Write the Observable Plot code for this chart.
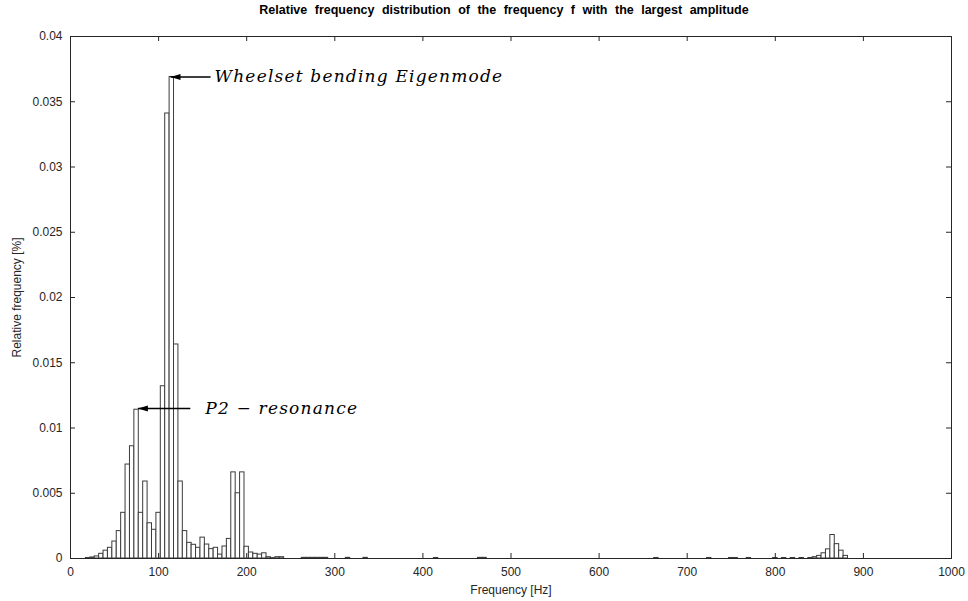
<!DOCTYPE html>
<html>
<head>
<meta charset="utf-8">
<script src="https://cdn.jsdelivr.net/npm/d3@7"></script>
<script src="https://cdn.jsdelivr.net/npm/@observablehq/plot@0.6"></script>
<style>
  html, body { margin: 0; padding: 0; background: white; }
  #title { box-sizing: border-box; width: 968px; height: 22px; padding: 3px 30px 0 70px; text-align: center;
    font: bold 12.5px "Liberation Sans", Arial, sans-serif; color: #000; word-spacing: 4px; white-space: nowrap; }
  #chart svg { display: block; }
</style>
</head>
<body>
<div id="title">Relative frequency distribution of the frequency f with the largest amplitude</div>
<div id="chart"></div>
<script>
// Bin centres (Hz), bin width 5 Hz
const freqHz = [20, 25, 30, 35, 40, 45, 50, 55, 60, 65, 70, 75, 80, 85, 90, 95, 100, 105, 110, 115, 120,
  125, 130, 135, 140, 145, 150, 155, 160, 165, 170, 175, 180, 185, 190, 195, 200, 205, 210, 215, 220,
  225, 230, 235, 240, 265, 270, 275, 280, 285, 290, 315, 335, 415, 465, 470, 665, 725, 750, 755, 770,
  800, 810, 820, 830, 840, 845, 850, 855, 860, 865, 870, 875, 880];
// Relative frequency
const relFreq = [0.00004, 0.00008, 0.00016, 0.00036, 0.0006, 0.00082, 0.0013, 0.0021, 0.0035, 0.0072, 0.0086, 0.0114, 0.0035, 0.0059, 0.0027, 0.0022, 0.0035, 0.0132, 0.0341, 0.0369, 0.0164,
  0.0059, 0.0021, 0.0012, 0.00105, 0.00082, 0.0016, 0.00107, 0.00072, 0.00082, 0.0003, 0.00092, 0.0015, 0.0066, 0.0050, 0.0066, 0.0009, 0.00046, 0.00036, 0.0003, 0.0004,
  0.0001, 0.00003, 0.0001, 0.0001, 0.00005, 0.00005, 0.00005, 0.00005, 0.00005, 0.00005, 0.00005, 0.00005, 0.00004, 0.00005, 0.00005, 0.00004, 0.00004, 0.00004, 0.00004, 0.00004,
  0.00004, 0.00004, 0.00004, 0.00004, 0.00004, 0.0001, 0.0002, 0.0004, 0.0007, 0.0018, 0.0011, 0.0006, 0.0002];
const binWidth = 5;

const xTicks = [0, 100, 200, 300, 400, 500, 600, 700, 800, 900, 1000];
const yTicks = [0, 0.005, 0.01, 0.015, 0.02, 0.025, 0.03, 0.035, 0.04];
const yTickLabels = ["0", "0.005", "0.01", "0.015", "0.02", "0.025", "0.03", "0.035", "0.04"];

// Annotations (data units)
const annotText = ["Wheelset bending Eigenmode", "P2 \u2212 resonance"];
const annotTipX = [113.5, 76.5];
const annotTailX = [159, 136];
const annotTextX = [163.5, 153];
const annotY = [0.0369, 0.0115];

const bars = freqHz.map((f, i) => ({x1: f - binWidth / 2, x2: f + binWidth / 2, v: relFreq[i]}));
const annots = annotText.map((t, i) => ({t, tip: annotTipX[i], tail: annotTailX[i], tx: annotTextX[i], y: annotY[i]}));

const W = 968, H = 579, mT = 14, mB = 43, mL = 70, mR = 17;
const innerW = W - mL - mR, innerH = H - mT - mB;
const tickLen = 5;
const axisColor = "#262626";

const headSymbol = {
  draw(ctx) {
    ctx.moveTo(0, 0);
    ctx.lineTo(10, -3);
    ctx.lineTo(10, 3);
    ctx.closePath();
  }
};

const chart = Plot.plot({
  width: W, height: H,
  marginTop: mT, marginBottom: mB, marginLeft: mL, marginRight: mR,
  x: {domain: [0, 1000]},
  y: {domain: [0, 0.04]},
  style: {fontFamily: "'Liberation Sans', Arial, sans-serif", fontSize: "12px", color: axisColor, background: "white"},
  marks: [
    Plot.rectY(bars, {x1: "x1", x2: "x2", y: "v", fill: "white", stroke: "#3c3c3c", strokeWidth: 1}),
    Plot.frame({stroke: axisColor, strokeWidth: 1}),
    // inward ticks
    Plot.ruleX(xTicks, {x: d => d, insetTop: innerH - tickLen, stroke: axisColor}),
    Plot.ruleX(xTicks, {x: d => d, insetBottom: innerH - tickLen, stroke: axisColor}),
    Plot.ruleY(yTicks, {y: d => d, insetRight: innerW - tickLen, stroke: axisColor}),
    Plot.ruleY(yTicks, {y: d => d, insetLeft: innerW - tickLen, stroke: axisColor}),
    Plot.axisX({ticks: xTicks, tickSize: 0, tickPadding: 9, tickFormat: d => String(d),
      label: "Frequency [Hz]", labelAnchor: "center", labelOffset: 35, labelArrow: "none"}),
    Plot.axisY({ticks: yTicks, tickSize: 0, tickPadding: 8, tickFormat: (d, i) => yTickLabels[i],
      label: "Relative frequency [%]", labelAnchor: "center", labelOffset: 58, labelArrow: "none"}),
    // annotations
    Plot.link(annots, {x1: "tip", x2: "tail", y1: "y", y2: "y", stroke: "black", strokeWidth: 1.6}),
    Plot.dot(annots, {x: "tip", y: "y", symbol: headSymbol, fill: "black", stroke: "none", r: 5}),
    Plot.text(annots, {x: "tx", y: "y", text: "t", textAnchor: "start", lineAnchor: "middle",
      fontFamily: "'DejaVu Serif', serif", fontStyle: "italic", fontSize: 17, fill: "black", className: "annot"})
  ]
});
document.getElementById("chart").appendChild(chart);
d3.select(chart).selectAll(".annot text").style("letter-spacing", "1.2px");
</script>
</body>
</html>
